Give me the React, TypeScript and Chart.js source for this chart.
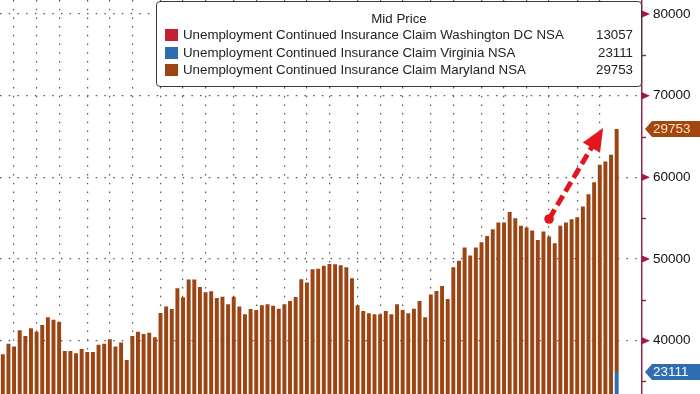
import React, { useEffect, useRef } from "react";
import { Chart, registerables } from "chart.js";

Chart.register(...registerables);

// ---------- data ----------
const seriesNames = [
  "Unemployment Continued Insurance Claim Washington DC NSA",
  "Unemployment Continued Insurance Claim Virginia NSA",
  "Unemployment Continued Insurance Claim Maryland NSA",
];
const seriesColors = ["#c41f33", "#2f6db3", "#9d4413"];
const latestValues = [13057, 23111, 29753]; // DC, VA, MD (last week)

// Visible top of the stacked bars for the earlier weeks (DC+VA+MD stack top)
const earlierStackTops = [
  38330, 39630, 39270, 41280, 40580, 41520, 41100, 41920, 42870, 42570,
  42330, 38740, 38740, 38460, 38980, 38620, 38620, 39510, 39630, 40170,
  39270, 39780, 37640, 40580, 41100, 40820, 40980, 40420, 43400, 44170,
  43890, 46420, 45320, 47480, 47480, 46580, 45930, 46050, 45230, 45390,
  44460, 45390, 44170, 43240, 43890, 43760, 44340, 44460, 44290, 43920,
  44460, 44870, 45360, 47530, 47110, 48750, 48820, 49160, 49400, 49360,
  49240, 49000, 47650, 44340, 43640, 43360, 43240, 43240, 43640, 43240,
  44460, 43760, 43360, 43920, 44870, 42870, 45640, 46090, 46700, 45110,
  49000, 49800, 51400, 50440, 51400, 52060, 52830, 53650, 54460, 54460,
  55770, 55000, 54060, 53850, 53480, 52340, 53360, 52750, 51940, 54060,
  54460, 54880, 55120, 56420, 57940, 59410, 61530, 61940, 62760,
];

const weekCount = earlierStackTops.length + 1;
const startDate = new Date(Date.UTC(2023, 5, 10));
const weekLabels: string[] = Array.from({ length: weekCount }, (_, i) =>
  new Date(startDate.getTime() + i * 7 * 86400000).toISOString().slice(0, 10)
);
const emptySlots = ["", "", "", ""]; // blank space right of the last bar
const monthStartIdx = [2, 6, 10, 15, 19, 23, 28, 32, 36, 41, 45, 50, 54, 58, 63, 67, 71, 76, 80, 85, 89, 93, 97, 102, 106];

const yTickValues = [40000, 50000, 60000, 70000, 80000];
const yMinorValues = [35000, 45000, 55000, 65000, 75000];
const yMin = 33468;
const yMax = 81716;

const arrowFrom = { week: 97, value: 54900 };
const arrowTo = { week: 106.6, value: 66050 };

const lastIdx = weekCount - 1;
const dcClaims = weekLabels.map((_, i) => (i === lastIdx ? latestValues[0] : null));
const vaClaims = weekLabels.map((_, i) => (i === lastIdx ? latestValues[1] : null));
const mdClaims = weekLabels.map((_, i) => (i === lastIdx ? latestValues[2] : earlierStackTops[i]));

const FONT = "'Liberation Sans', Arial, sans-serif";
const axisColor = "#8e2a4a";
const gridColor = "#555555";

const decorPlugin = {
  id: "decor",
  afterDatasetsDraw(chart: any) {
    const { ctx, scales } = chart;
    const x = scales.x, y = scales.y;
    const x0 = x.getPixelForValue(arrowFrom.week), y0 = y.getPixelForValue(arrowFrom.value);
    const x1 = x.getPixelForValue(arrowTo.week), y1 = y.getPixelForValue(arrowTo.value);
    const dx = x1 - x0, dy = y1 - y0;
    const len = Math.hypot(dx, dy);
    const ux = dx / len, uy = dy / len;
    const headLen = 23, headHalf = 10;
    const bx = x1 - ux * headLen, by = y1 - uy * headLen;
    const red = "#e3151e";
    ctx.save();
    ctx.strokeStyle = red;
    ctx.fillStyle = red;
    ctx.lineWidth = 5;
    ctx.setLineDash([11, 5]);
    ctx.beginPath();
    ctx.moveTo(x0, y0);
    ctx.lineTo(bx + ux * 2, by + uy * 2);
    ctx.stroke();
    ctx.setLineDash([]);
    ctx.beginPath();
    ctx.arc(x0, y0, 4.8, 0, Math.PI * 2);
    ctx.fill();
    ctx.beginPath();
    ctx.moveTo(x1, y1);
    ctx.lineTo(bx - uy * headHalf, by + ux * headHalf);
    ctx.lineTo(bx + uy * headHalf, by - ux * headHalf);
    ctx.closePath();
    ctx.fill();
    ctx.restore();
  },
  afterDraw(chart: any) {
    const { ctx, scales, chartArea, width } = chart;
    const y = scales.y;
    const ax = chartArea.right;
    ctx.save();
    // major tick triangles
    ctx.fillStyle = "#a8163f";
    yTickValues.forEach((v) => {
      const py = y.getPixelForValue(v);
      ctx.beginPath();
      ctx.moveTo(ax, py - 3.5);
      ctx.lineTo(ax + 8, py);
      ctx.lineTo(ax, py + 3.5);
      ctx.closePath();
      ctx.fill();
    });
    // minor ticks
    ctx.strokeStyle = axisColor;
    ctx.lineWidth = 1.5;
    yMinorValues.forEach((v) => {
      const py = Math.round(y.getPixelForValue(v)) + 0.5;
      ctx.beginPath();
      ctx.moveTo(ax, py);
      ctx.lineTo(ax + 4, py);
      ctx.stroke();
    });
    // value tags
    const drawTag = (val: number, text: string, bg: string, fg: string) => {
      const py = y.getPixelForValue(val);
      const tx = ax + 3, h = 16;
      ctx.fillStyle = bg;
      ctx.beginPath();
      ctx.moveTo(tx, py);
      ctx.lineTo(tx + 7, py - h / 2);
      ctx.lineTo(width, py - h / 2);
      ctx.lineTo(width, py + h / 2);
      ctx.lineTo(tx + 7, py + h / 2);
      ctx.closePath();
      ctx.fill();
      ctx.fillStyle = fg;
      ctx.font = `13.5px ${FONT}`;
      ctx.textAlign = "left";
      ctx.textBaseline = "middle";
      ctx.fillText(text, ax + 11, py + 0.5);
    };
    const total = latestValues[0] + latestValues[1] + latestValues[2];
    drawTag(total, String(latestValues[2]), "#a4460f", "#fde2c6");
    drawTag(latestValues[0] + latestValues[1], String(latestValues[1]), "#2f6db3", "#ffffff");
    ctx.restore();
  },
};

export default function App() {
  const canvasRef = useRef<HTMLCanvasElement | null>(null);

  useEffect(() => {
    if (!canvasRef.current) return;
    const chart = new Chart(canvasRef.current, {
      type: "bar",
      data: {
        labels: [...weekLabels, ...emptySlots],
        datasets: [
          { label: seriesNames[0], data: dcClaims, backgroundColor: seriesColors[0] },
          { label: seriesNames[1], data: vaClaims, backgroundColor: seriesColors[1] },
          { label: seriesNames[2], data: mdClaims, backgroundColor: seriesColors[2] },
        ].map((d) => ({ ...d, borderWidth: 0, barPercentage: 0.7, categoryPercentage: 1 })),
      },
      options: {
        responsive: false,
        animation: false,
        layout: { padding: 0 },
        plugins: { legend: { display: false }, tooltip: { enabled: false } },
        scales: {
          x: {
            stacked: true,
            offset: true,
            ticks: { display: false, autoSkip: false },
            grid: {
              offset: false,
              drawTicks: false,
              lineWidth: 1.2,
              color: (c: any) => (monthStartIdx.includes(c.index) ? gridColor : "rgba(0,0,0,0)"),
            },
            border: { display: false, dash: [1.5, 7.2] },
          },
          y: {
            stacked: true,
            position: "right",
            min: yMin,
            max: yMax,
            afterBuildTicks: (s: any) => {
              s.ticks = yTickValues.map((v) => ({ value: v }));
            },
            afterFit: (s: any) => {
              s.width = 58;
              s.paddingTop = 0;
              s.paddingBottom = 0;
            },
            ticks: {
              padding: 11,
              color: "#111",
              font: { family: FONT, size: 13.5 },
              callback: (v: any) => String(v),
            },
            grid: { drawTicks: false, color: gridColor, lineWidth: 1.2 },
            border: { display: true, color: axisColor, width: 1.5, dash: [1.5, 7.2] },
          },
        },
      },
      plugins: [decorPlugin],
    });
    return () => chart.destroy();
  }, []);

  const rowCenters = [35, 52.7, 70.4];
  return (
    <div style={{ position: "fixed", left: 0, top: 0, width: 700, height: 394, background: "#fff", overflow: "hidden", fontFamily: FONT }}>
      <canvas ref={canvasRef} width={700} height={394} style={{ position: "absolute", left: 0, top: 0, width: 700, height: 394 }} />
      <div style={{ position: "absolute", left: 156, top: 1, width: 486, height: 86, boxSizing: "border-box", border: "1px solid #3a3a3a", borderRadius: 4, background: "#fff" }} />
      <div style={{ position: "absolute", left: 156, top: 10, width: 486, textAlign: "center", fontSize: 13.3, lineHeight: "18px", color: "#222" }}>Mid Price</div>
      {seriesNames.map((name, i) => (
        <React.Fragment key={name}>
          <div style={{ position: "absolute", left: 165, top: rowCenters[i] - 6, width: 13, height: 12, background: seriesColors[i] }} />
          <div style={{ position: "absolute", left: 183, top: rowCenters[i] - 9, height: 18, lineHeight: "18px", fontSize: 13.3, color: "#222", whiteSpace: "nowrap" }}>{name}</div>
          <div style={{ position: "absolute", left: 560, width: 73, top: rowCenters[i] - 9, height: 18, lineHeight: "18px", fontSize: 13.3, color: "#222", textAlign: "right" }}>{latestValues[i]}</div>
        </React.Fragment>
      ))}
    </div>
  );
}
